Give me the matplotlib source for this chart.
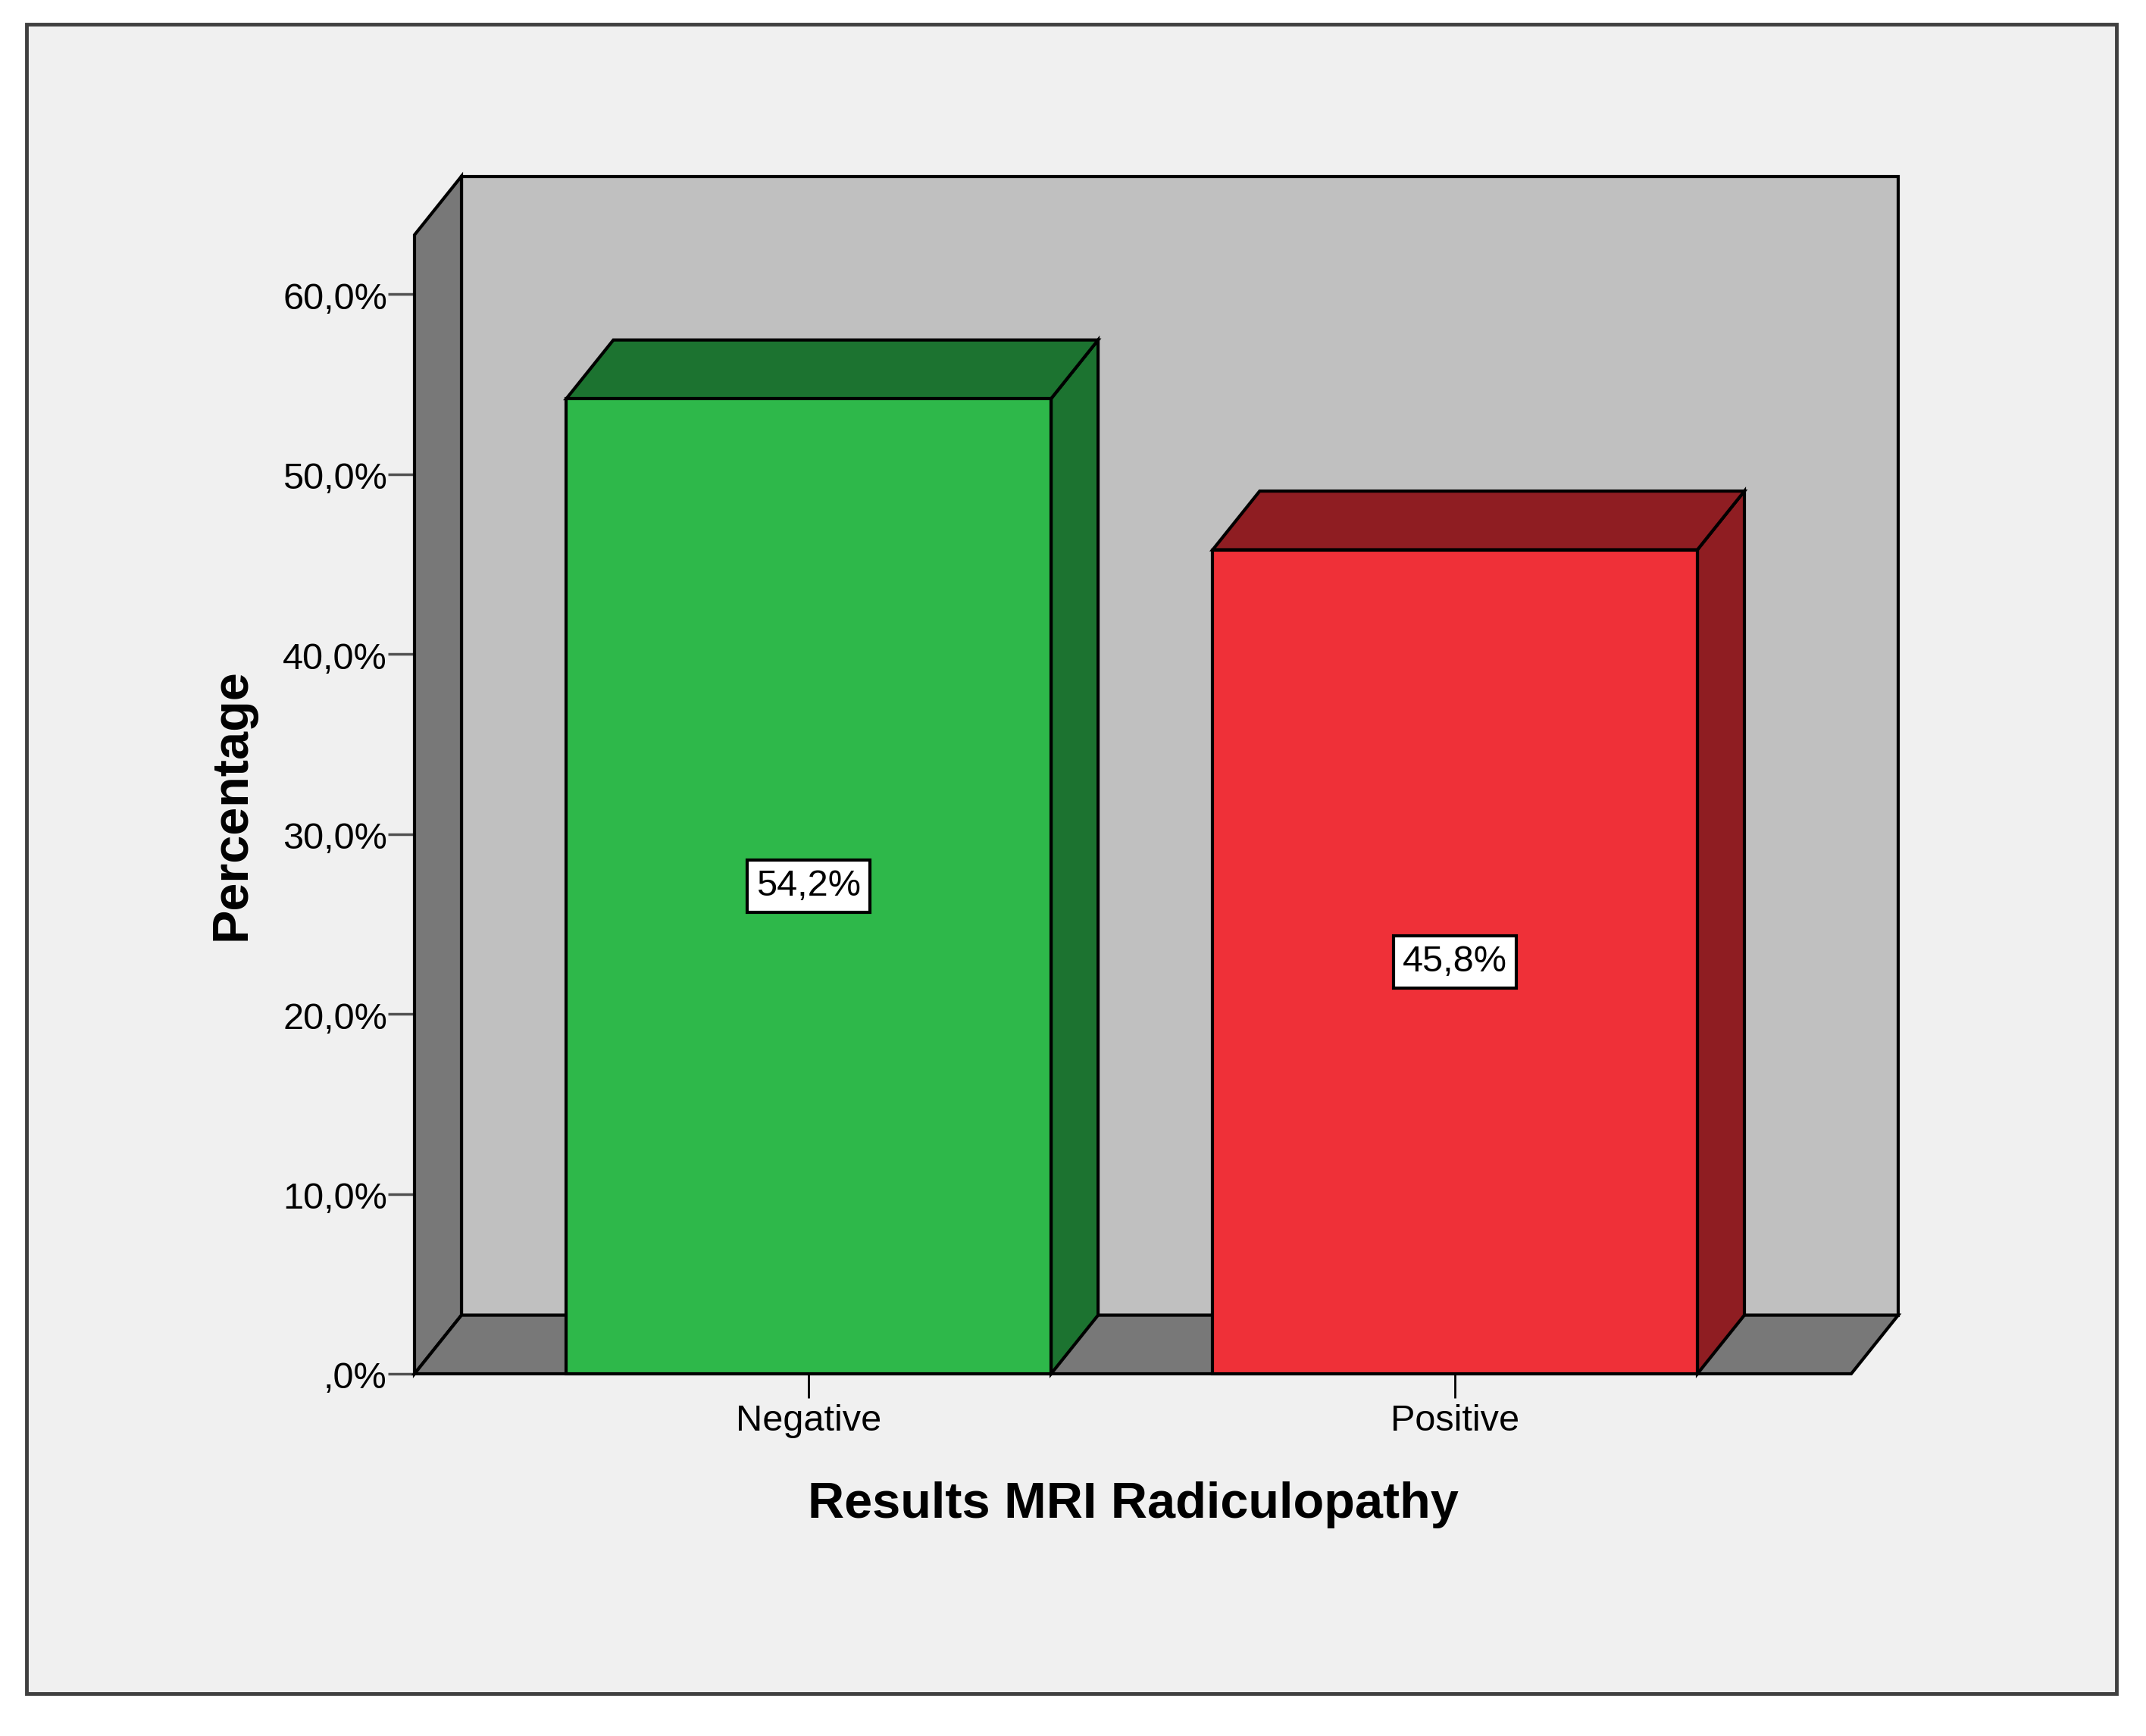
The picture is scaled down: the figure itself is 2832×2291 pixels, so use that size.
import matplotlib.pyplot as plt
from matplotlib.patches import Polygon, Rectangle

# data
categories = ['Negative', 'Positive']
percent = [54.2, 45.8]
value_labels = ['54,2%', '45,8%']
y_ticks = [0, 10, 20, 30, 40, 50, 60]
y_tick_labels = [',0%', '10,0%', '20,0%', '30,0%', '40,0%', '50,0%', '60,0%']

front_colors = ['#2eb84a', '#ef3038']
dark_colors = ['#1c7330', '#8f1d22']

W, H = 2832, 2291
plt.rcParams['font.family'] = ['Liberation Sans', 'DejaVu Sans']

fig = plt.figure(figsize=(W / 100, H / 100), dpi=100)
fig.patch.set_facecolor('white')
fig.patches.append(Rectangle((35 / W, 1 - 2235 / H), (2793 - 35) / W, (2235 - 32) / H,
                             transform=fig.transFigure, facecolor='#f0f0f0',
                             edgecolor='#404040', linewidth=3.5, zorder=-1))

ax = fig.add_axes([547 / W, 1 - 1813 / H, (2443 - 547) / W, (1813 - 310) / H])
ax.patch.set_visible(False)
for s in ax.spines.values():
    s.set_visible(False)

x0, x1 = -0.61, 1.613
ymax = 63.3
ax.set_xlim(x0, x1)
ax.set_ylim(0, ymax)

# 3d depth of the box, in data units
ddx, ddy = 0.0727, 3.26
lw = 3


def poly(pts, color, z):
    ax.add_patch(Polygon(pts, closed=True, facecolor=color, edgecolor='black',
                         linewidth=lw, joinstyle='miter', clip_on=False, zorder=z))


# back wall, left wall, floor
poly([(x0 + ddx, ddy), (x1 + ddx, ddy), (x1 + ddx, ymax + ddy), (x0 + ddx, ymax + ddy)], '#c0c0c0', 1)
poly([(x0, 0), (x0 + ddx, ddy), (x0 + ddx, ymax + ddy), (x0, ymax)], '#787878', 2)
poly([(x0, 0), (x1, 0), (x1 + ddx, ddy), (x0 + ddx, ddy)], '#787878', 2)

bw = 0.75
for i, v in enumerate(percent):
    xl, xr = i - bw / 2, i + bw / 2
    poly([(xr, 0), (xr + ddx, ddy), (xr + ddx, v + ddy), (xr, v)], dark_colors[i], 3)
    poly([(xl, v), (xr, v), (xr + ddx, v + ddy), (xl + ddx, v + ddy)], dark_colors[i], 3)
    poly([(xl, 0), (xr, 0), (xr, v), (xl, v)], front_colors[i], 4)
    ax.text(i, v / 2, value_labels[i], ha='center', va='center', fontsize=35, zorder=6,
            bbox=dict(boxstyle='square,pad=0.25', facecolor='white', edgecolor='black', linewidth=3))

ax.set_yticks(y_ticks)
ax.set_yticklabels(y_tick_labels, va='top')
for t in ax.get_yticklabels():
    t.set_y(t.get_position()[1])
ax.set_xticks(range(len(categories)))
ax.set_xticklabels(categories)
ax.tick_params(axis='y', length=25, width=2.5, color='#505050', labelsize=35, pad=1)
ax.tick_params(axis='x', length=23, width=2, color='black', labelsize=35, pad=6)
# labels sit a little below their tick in the original
for t in ax.get_yticklabels():
    t.set_va('center')
    t.set_transform(t.get_transform() + plt.matplotlib.transforms.ScaledTranslation(0, -0.07, fig.dpi_scale_trans))

ax.set_xlabel('Results MRI Radiculopathy', fontsize=48, fontweight='bold', va='baseline')
ax.xaxis.set_label_coords(0.5, (1813 - 2003) / (1813 - 310))
ax.set_ylabel('Percentage', fontsize=48, fontweight='bold', va='baseline')
ax.yaxis.set_label_coords((323 - 547) / (2443 - 547), 0.5)

fig.savefig('out.png', dpi=100)
